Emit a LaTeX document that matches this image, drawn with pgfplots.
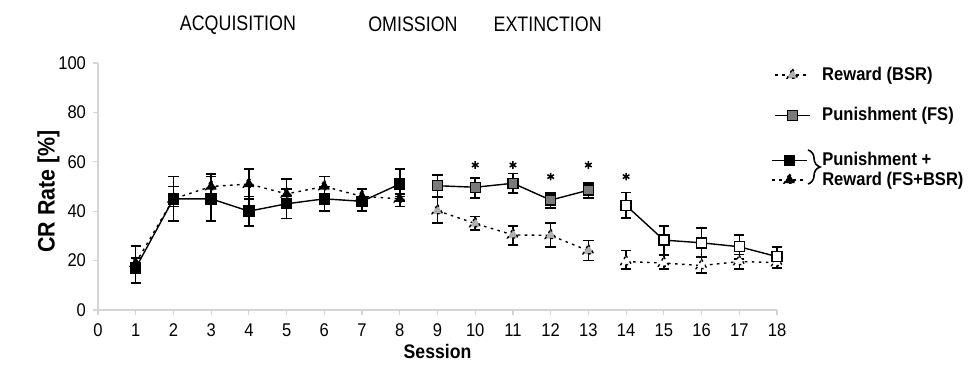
\documentclass[border=0pt]{standalone}
\usepackage{fontspec}
\setmainfont{Liberation Sans}
\newfontfamily\condA[FakeStretch=0.85]{Liberation Sans}
\newfontfamily\condB[FakeStretch=0.9]{Liberation Sans}
\usepackage{pgfplots}
\pgfplotsset{compat=1.18}
\usetikzlibrary{decorations.pathreplacing}
\definecolor{midgray}{HTML}{7A7A7A}
\definecolor{lightgray}{HTML}{B0B0B0}
\definecolor{axgray}{HTML}{D4D4D4}

% FS+BSR squares (acquisition)
\pgfplotstableread{
x y ep em
1 17 4 6
2 45 9 9
3 45 9 9
4 40 6 6
5 43 6 6
6 45 5 5
7 44 5 4
8 51 6 5
}\fsbsrsq
% FS+BSR triangles (acquisition)
\pgfplotstableread{
x y ep em
1 19 7 4
2 45 5 3
3 50 5 5
4 51 6 6
5 47 6 4
6 50 4 4
7 46 3 3
8 45 2 3
}\fsbsrtri
% FS omission (gray squares)
\pgfplotstableread{
x y ep em
9 50.3 4.3 4.6
10 49.7 3.7 4.4
11 51.3 4.0 4.0
12 44.5 2.8 3.2
13 48.5 2.9 3.2
}\fsom
% FS extinction (white squares)
\pgfplotstableread{
x y ep em
14 42.3 5.2 5.1
15 28.3 5.7 6.3
16 27.2 6.0 6.0
17 25.6 4.8 5.0
18 21.6 4.0 4.6
}\fsext
% BSR omission (gray triangles)
\pgfplotstableread{
x y ep em
9 40.2 5.8 4.9
10 35.0 2.8 2.6
11 30.4 3.6 4.1
12 30.2 5.1 4.7
13 24.0 4.2 4.0
}\bsrom
% BSR extinction (white triangles)
\pgfplotstableread{
x y ep em
14 19.6 4.4 3.0
15 19.0 3.3 2.5
16 18.0 3.4 3.0
17 19.6 2.9 3.1
18 19.2 2.3 2.2
}\bsrext
% significance stars
\pgfplotstableread{
x y
10 58.7
11 58.7
12 54.0
13 58.7
14 54.0
}\stars

\begin{document}
\begin{tikzpicture}
\useasboundingbox (-49pt,-31.5pt) rectangle (437.5pt,155pt);
\pgfplotsset{
  every axis plot/.append style={line width=0.7pt},
  errstyle/.style={error bars/y dir=both, error bars/y explicit,
     error bars/error bar style={line width=0.75pt, black, solid},
     error bars/error mark options={rotate=90, mark size=2.6pt, line width=0.75pt, black, solid}},
  dotline/.style={dash pattern=on 1.3pt off 2.2pt},
  sqm/.style={mark=square*, mark size=2.5pt, mark options={solid, draw=black, line width=0.7pt}},
  trim/.style={mark=triangle*, mark size=3.1pt, mark options={solid, draw=black, line width=0.7pt}},
}
\begin{axis}[
  at={(0,0)}, anchor=south west, scale only axis,
  width=339.5pt, height=123.5pt,
  xmin=0, xmax=18, ymin=0, ymax=100,
  axis x line*=bottom, axis y line*=left,
  axis line style={axgray, line width=0.7pt, -},
  xtick={0,...,18}, ytick={0,20,...,100},
  tick align=outside, major tick length=2.5pt,
  tick style={axgray, line width=0.6pt},
  tick label style={font=\condB\fontsize{9.2}{10}\selectfont},
  xticklabel style={yshift=-1pt},
  /pgf/number format/assume math mode=true,
  xlabel={\textbf{Session}}, ylabel={\textbf{CR Rate [\%]}},
  xlabel style={font=\condB\fontsize{9.8}{11}\selectfont, at={(axis description cs:0.5,-0.17)}, anchor=center},
  ylabel style={font=\condB\fontsize{11.9}{13}\selectfont, at={(axis description cs:-0.073,0.48)}, anchor=center},
  clip=false,
  legend image code/.code={\draw[mark repeat=2,mark phase=2,#1] plot coordinates {(0cm,0cm) (0.3cm,0cm) (0.6cm,0cm)};},
  legend style={at={(axis description cs:0.996,0.869)}, anchor=west, draw=none, fill=none,
     row sep=8pt, column sep=4pt, inner sep=0pt, font=\condB\bfseries\fontsize{9.2}{10}\selectfont},
  legend cell align=left,
]
\addplot[black, solid, sqm, mark options={fill=black}, errstyle, forget plot]
  table[x=x, y=y, y error plus=ep, y error minus=em] {\fsbsrsq};
\addplot[black, dotline, trim, mark options={fill=black}, errstyle, forget plot]
  table[x=x, y=y, y error plus=ep, y error minus=em] {\fsbsrtri};
\addplot[black, dotline, trim, mark options={fill=lightgray}, errstyle, forget plot]
  table[x=x, y=y, y error plus=ep, y error minus=em] {\bsrom};
\addplot[black, dotline, trim, mark options={fill=white}, errstyle, forget plot]
  table[x=x, y=y, y error plus=ep, y error minus=em] {\bsrext};
\addplot[black, solid, sqm, mark options={fill=midgray}, errstyle, forget plot]
  table[x=x, y=y, y error plus=ep, y error minus=em] {\fsom};
\addplot[black, solid, sqm, mark options={fill=white}, errstyle, forget plot]
  table[x=x, y=y, y error plus=ep, y error minus=em] {\fsext};
\addplot[only marks, mark=asterisk, mark size=1.9pt, black, line width=0.75pt, forget plot]
  table[x=x, y=y] {\stars};

\node[font=\condA\fontsize{10.5}{12}\selectfont] at (axis cs:3.71,115.5) {ACQUISITION};
\node[font=\condA\fontsize{10.5}{12}\selectfont] at (axis cs:8.35,115.5) {OMISSION};
\node[font=\condA\fontsize{10.5}{12}\selectfont] at (axis cs:11.92,115.5) {EXTINCTION};

\addlegendimage{black, dotline, trim, mark options={fill=lightgray}}
\addlegendentry{Reward (BSR)}
\addlegendimage{black, solid, sqm, mark options={fill=midgray}}
\addlegendentry{Punishment (FS)}
\end{axis}

\begin{axis}[
  at={(0,0)}, anchor=south west, scale only axis,
  width=339.5pt, height=123.5pt,
  xmin=0, xmax=18, ymin=0, ymax=100,
  hide axis, clip=false,
  legend style={at={(axis description cs:0.9916,0.565)}, anchor=west, draw=none, fill=none,
     row sep=-2.5pt, column sep=5.5pt, inner sep=0pt, font=\condB\bfseries\fontsize{9.2}{10}\selectfont},
  legend cell align=left,
]
\addlegendimage{black, solid, sqm, mark options={fill=black}}
\addlegendentry{Punishment +}
\addlegendimage{black, dotline, trim, mark options={fill=black}}
\addlegendentry{Reward (FS+BSR)}
\draw[line width=0.8pt, decorate, decoration={brace, amplitude=6pt}]
  (axis description cs:1.0457,0.648) -- (axis description cs:1.0457,0.510);
\end{axis}
\end{tikzpicture}
\end{document}
